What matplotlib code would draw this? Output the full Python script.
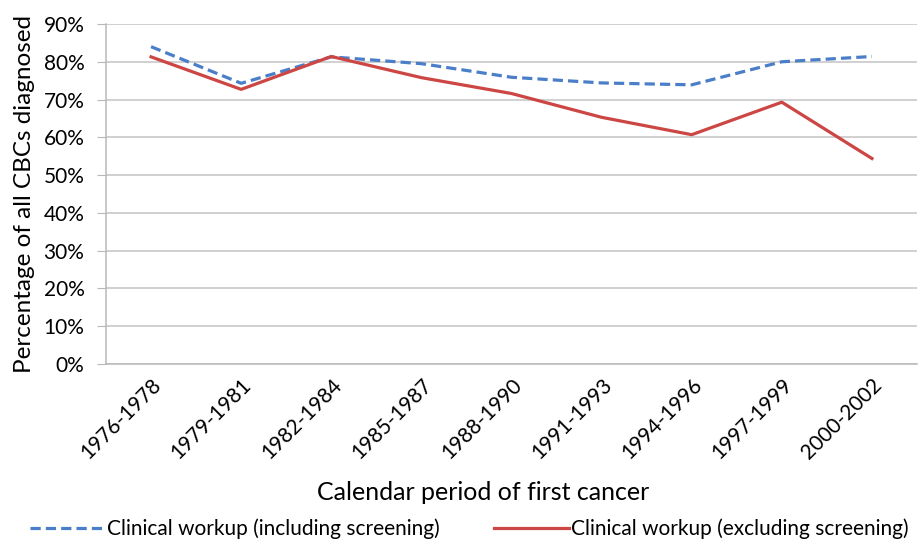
import numpy as np
import matplotlib.pyplot as plt
from matplotlib.ticker import PercentFormatter

periods = ['1976-1978', '1979-1981', '1982-1984', '1985-1987', '1988-1990',
           '1991-1993', '1994-1996', '1997-1999', '2000-2002']
incl_screening = [84.0, 74.3, 81.3, 79.5, 75.9, 74.4, 73.9, 80.0, 81.4]
excl_screening = [81.3, 72.7, 81.4, 75.8, 71.6, 65.3, 60.7, 69.3, 54.4]

plt.rcParams['font.family'] = ['Lato', 'DejaVu Sans']

fig = plt.figure(figsize=(9.2, 5.42), dpi=100)
ax = fig.add_axes([106 / 920, 1 - 364 / 542, 811 / 920, 340 / 542])

x = np.arange(len(periods))
ax.plot(x, incl_screening, color='#4A7EC8', linewidth=2.3, linestyle=(0, (3.2, 1.6)),
        label='Clinical workup (including screening)')
ax.plot(x, excl_screening, color='#CC4644', linewidth=2.3,
        label='Clinical workup (excluding screening)')

ax.set_xlim(-0.5, len(periods) - 0.5)
ax.set_ylim(0, 90)
ax.set_yticks(np.arange(0, 91, 10))
ax.yaxis.set_major_formatter(PercentFormatter(decimals=0))
ax.set_xticks(x)
ax.set_xticklabels(periods, rotation=45, ha='right', rotation_mode='anchor')

ax.grid(axis='y', color='#C4C4C4', linewidth=1.1)
ax.set_axisbelow(True)
for side in ['top', 'right']:
    ax.spines[side].set_visible(False)
ax.spines['left'].set_color('#B8B8B8')
ax.spines['bottom'].set_color('#B8B8B8')
ax.spines['left'].set_linewidth(1.1)
ax.spines['bottom'].set_linewidth(1.1)
ax.tick_params(axis='y', length=6.5, color='#B8B8B8', labelsize=15, pad=9)
ax.tick_params(axis='x', length=0, labelsize=15, pad=8)

ax.set_ylabel('Percentage of all CBCs diagnosed', fontsize=17.5, labelpad=6)
fig.text(483 / 920, 1 - 492 / 542, 'Calendar period of first cancer',
         fontsize=18, ha='center', va='center')

fig.legend(loc='center', bbox_to_anchor=(469 / 920, 1 - 529 / 542), ncol=2,
           frameon=False, fontsize=15, handlelength=3.6, handletextpad=0.1,
           columnspacing=2.6)

fig.savefig('out.png', dpi=100)
